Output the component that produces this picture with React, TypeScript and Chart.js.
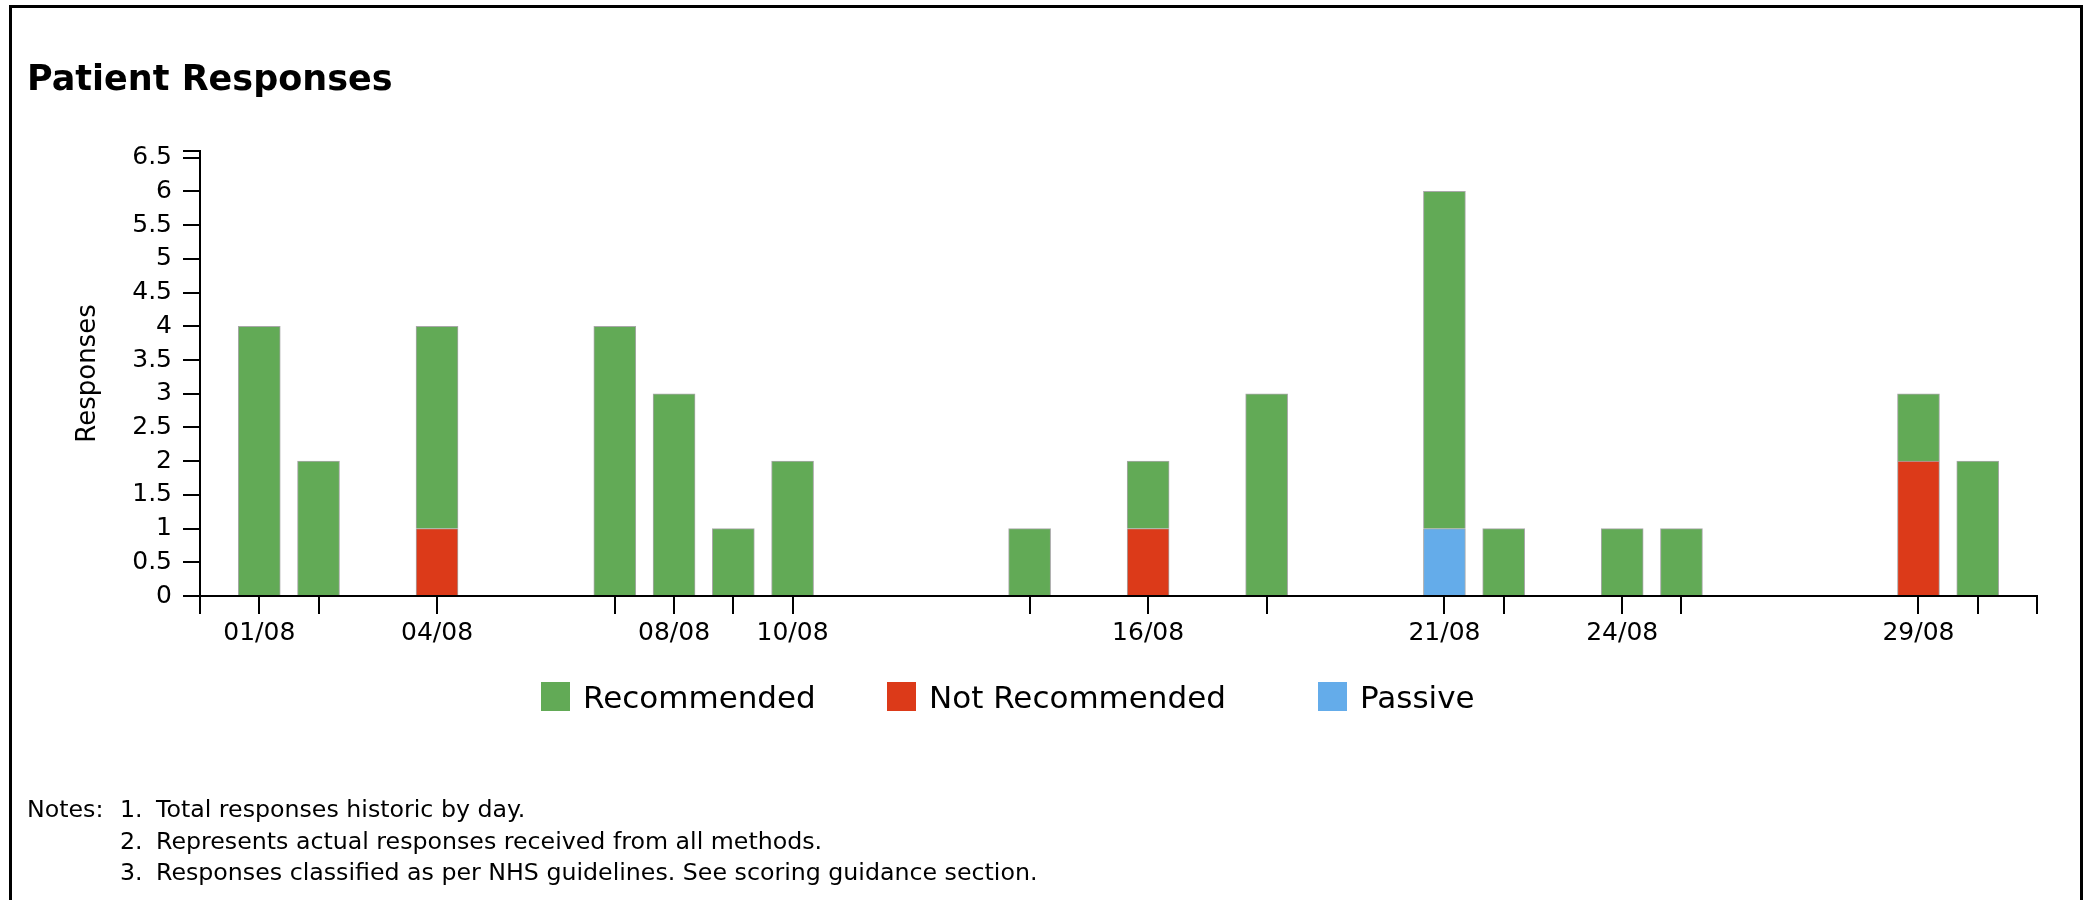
import React, { useEffect, useRef } from 'react';
import { Chart, registerables } from 'chart.js';

Chart.register(...registerables);

// ---- data ----
const dayNumbers = [1, 2, 4, 7, 8, 9, 10, 14, 16, 18, 21, 22, 24, 25, 29, 30];
const dayLabels = ['01/08', '02/08', '04/08', '07/08', '08/08', '09/08', '10/08', '14/08', '16/08', '18/08', '21/08', '22/08', '24/08', '25/08', '29/08', '30/08'];
const shownDayLabels = ['01/08', '04/08', '08/08', '10/08', '16/08', '21/08', '24/08', '29/08'];
const recommended = [4, 2, 3, 4, 3, 1, 2, 1, 1, 3, 5, 1, 1, 1, 1, 2];
const notRecommended = [0, 0, 1, 0, 0, 0, 0, 0, 1, 0, 0, 0, 0, 0, 2, 0];
const passive = [0, 0, 0, 0, 0, 0, 0, 0, 0, 0, 1, 0, 0, 0, 0, 0];
const axisStartDay = 0; // 31/07
const axisEndDay = 31; // 31/08
const yTickValues = [0, 0.5, 1, 1.5, 2, 2.5, 3, 3.5, 4, 4.5, 5, 5.5, 6, 6.5];
const yAxisMax = 6.6;

const seriesNames = ['Recommended', 'Not Recommended', 'Passive'];
const seriesColors = ['#62AA56', '#DC3A19', '#64ACEA'];

const titleText = 'Patient Responses';
const yAxisTitle = 'Responses';
const noteLabel = 'Notes:';
const notes = [
  'Total responses historic by day.',
  'Represents actual responses received from all methods.',
  'Responses classified as per NHS guidelines. See scoring guidance section.',
];

const FONT = "'DejaVu Sans', sans-serif";

function toPoints(values: number[]) {
  return dayNumbers.map((d, i) => ({ x: d, y: values[i] > 0 ? values[i] : null }));
}

export default function App() {
  const canvasRef = useRef<HTMLCanvasElement | null>(null);

  useEffect(() => {
    const canvas = canvasRef.current;
    if (!canvas) return;
    const common = {
      stack: 'all',
      borderColor: '#a8a8a8',
      borderWidth: 1,
      barThickness: 42,
    };
    const chart = new Chart(canvas, {
      type: 'bar',
      data: {
        datasets: [
          { ...common, label: seriesNames[1], data: toPoints(notRecommended), backgroundColor: seriesColors[1] },
          { ...common, label: seriesNames[2], data: toPoints(passive), backgroundColor: seriesColors[2] },
          { ...common, label: seriesNames[0], data: toPoints(recommended), backgroundColor: seriesColors[0] },
        ] as any,
      },
      options: {
        animation: false,
        responsive: false,
        maintainAspectRatio: false,
        devicePixelRatio: 1,
        layout: { padding: { left: 0, top: 151, right: 55, bottom: 244 } },
        plugins: {
          legend: { display: false },
          tooltip: { enabled: false },
          title: { display: false },
        },
        font: { family: FONT },
        scales: {
          x: {
            type: 'linear',
            min: axisStartDay,
            max: axisEndDay,
            offset: false,
            afterBuildTicks: (s: any) => {
              s.ticks = [axisStartDay, ...dayNumbers, axisEndDay].map((v) => ({ value: v }));
            },
            afterFit: (s: any) => {
              s.height = 60;
            },
            ticks: {
              autoSkip: false,
              maxRotation: 0,
              minRotation: 0,
              padding: 4,
              color: '#000',
              font: { family: FONT, size: 25 },
              callback: (v: any) => {
                const i = dayNumbers.indexOf(Number(v));
                if (i < 0) return '';
                const l = dayLabels[i];
                return shownDayLabels.includes(l) ? l : '';
              },
            },
            grid: { drawOnChartArea: false, drawTicks: true, tickLength: 18, color: '#000', lineWidth: 2, offset: false },
            border: { display: true, color: '#000', width: 2 },
          },
          y: {
            type: 'linear',
            min: 0,
            max: yAxisMax,
            afterBuildTicks: (s: any) => {
              s.ticks = [...yTickValues, yAxisMax].map((v) => ({ value: v }));
            },
            afterFit: (s: any) => {
              s.width = 200;
            },
            ticks: {
              autoSkip: false,
              padding: 11,
              color: '#000',
              font: { family: FONT, size: 25 },
              callback: (v: any) => (yTickValues.includes(Number(v)) ? String(v) : ''),
            },
            grid: { drawOnChartArea: false, drawTicks: true, tickLength: 17, color: '#000', lineWidth: 2 },
            border: { display: true, color: '#000', width: 2 },
            title: {
              display: true,
              text: yAxisTitle,
              color: '#000',
              font: { family: FONT, size: 26 },
              padding: { top: 73, bottom: 0 },
            },
          },
        },
      } as any,
    });
    return () => chart.destroy();
  }, []);

  const legendLefts = [541, 887, 1318];
  const legendOrder = [0, 1, 2];

  return (
    <div style={{ position: 'fixed', left: 0, top: 0, width: 2092, height: 900, overflow: 'hidden', background: '#fff' }}>
      <div
        style={{
          position: 'absolute',
          left: 9,
          top: 5,
          width: 2068,
          height: 1000,
          border: '3px solid #000',
        }}
      />
      <canvas
        ref={canvasRef}
        width={2092}
        height={900}
        style={{ position: 'absolute', left: 0, top: 0, width: 2092, height: 900 }}
      />
      <div
        style={{
          position: 'absolute',
          left: 27,
          top: 61,
          fontFamily: FONT,
          fontWeight: 'bold',
          fontSize: 35,
          lineHeight: '35px',
          color: '#000',
          whiteSpace: 'nowrap',
        }}
      >
        {titleText}
      </div>
      {legendOrder.map((si, k) => (
        <div
          key={si}
          style={{
            position: 'absolute',
            left: legendLefts[k],
            top: 682,
            height: 29,
            display: 'flex',
            alignItems: 'center',
            fontFamily: FONT,
            fontSize: 31,
            color: '#000',
            whiteSpace: 'nowrap',
          }}
        >
          <span style={{ display: 'inline-block', width: 29, height: 29, background: seriesColors[si], marginRight: 13 }} />
          <span>{seriesNames[si]}</span>
        </div>
      ))}
      {notes.map((n, i) => (
        <div
          key={i}
          style={{
            position: 'absolute',
            left: 0,
            top: 794 + i * 31.5,
            height: 31.5,
            lineHeight: '31.5px',
            fontFamily: FONT,
            fontSize: 23.7,
            color: '#000',
            whiteSpace: 'nowrap',
          }}
        >
          {i === 0 && <span style={{ position: 'absolute', left: 27 }}>{noteLabel}</span>}
          <span style={{ position: 'absolute', left: 120 }}>{i + 1}.</span>
          <span style={{ position: 'absolute', left: 156 }}>{n}</span>
        </div>
      ))}
    </div>
  );
}
